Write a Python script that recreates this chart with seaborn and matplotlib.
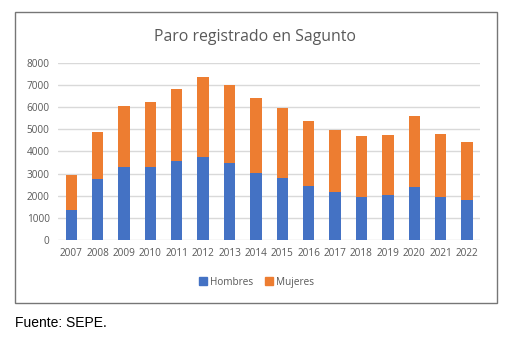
import pandas as pd
import matplotlib.pyplot as plt
import seaborn as sns
from matplotlib.patches import Patch, Rectangle


# data
years = ['2007', '2008', '2009', '2010', '2011', '2012', '2013', '2014',
         '2015', '2016', '2017', '2018', '2019', '2020', '2021', '2022']
hombres = [1370, 2770, 3280, 3310, 3580, 3770, 3490, 3040,
           2820, 2450, 2180, 1960, 2050, 2410, 1960, 1820]
mujeres = [1580, 2120, 2790, 2940, 3260, 3610, 3530, 3390,
           3160, 2940, 2800, 2750, 2710, 3210, 2840, 2620]

data = pd.DataFrame({'year': years, 'Hombres': hombres, 'Mujeres': mujeres})
data['total'] = data['Hombres'] + data['Mujeres']

blue = '#4472c4'
orange = '#ed7d31'
grey_text = '#595959'

sns.set_style('white')
plt.rcParams['font.family'] = ['Open Sans', 'DejaVu Sans']

fig = plt.figure(figsize=(5.18, 3.55), dpi=100)
ax = fig.add_axes([0.112, 0.324, 0.815, 0.499])

# stacked bars: totals (orange) behind, hombres (blue) in front
sns.barplot(data=data, x='year', y='total', color=orange, width=0.43,
            saturation=1, linewidth=0, ax=ax, zorder=2)
sns.barplot(data=data, x='year', y='Hombres', color=blue, width=0.43,
            saturation=1, linewidth=0, ax=ax, zorder=3)

ax.set_ylim(0, 8000)
ax.set_yticks(range(0, 8001, 1000))
ax.set_xlim(-0.5, len(years) - 0.5)
ax.yaxis.grid(True, color='#d9d9d9', linewidth=1, zorder=0)
ax.set_axisbelow(True)
for s in ['top', 'right', 'left', 'bottom']:
    ax.spines[s].set_visible(False)
ax.set_xlabel('')
ax.set_ylabel('')
ax.tick_params(axis='both', length=0, labelsize=7.2, colors=grey_text, pad=6)

fig.text(0.493, 0.896, 'Paro registrado en Sagunto', ha='center', va='center',
         fontsize=11.4, color=grey_text)

handles = [Patch(color=blue, label='Hombres'), Patch(color=orange, label='Mujeres')]
leg = fig.legend(handles=handles, loc='center', bbox_to_anchor=(0.496, 0.205),
                 ncol=2, frameon=False, fontsize=7.2, handlelength=0.8,
                 handleheight=0.8, handletextpad=0.3, columnspacing=1.2)
for t in leg.get_texts():
    t.set_color(grey_text)

# chart border
fig.patches.append(Rectangle((0.029, 0.146), 0.930, 0.820, transform=fig.transFigure,
                             fill=False, edgecolor='#767676', linewidth=1))

fig.text(0.029, 0.09, 'Fuente: SEPE.', ha='left', va='center',
         fontsize=10, family='Liberation Sans', color='black')

fig.savefig('out.png', dpi=100)
